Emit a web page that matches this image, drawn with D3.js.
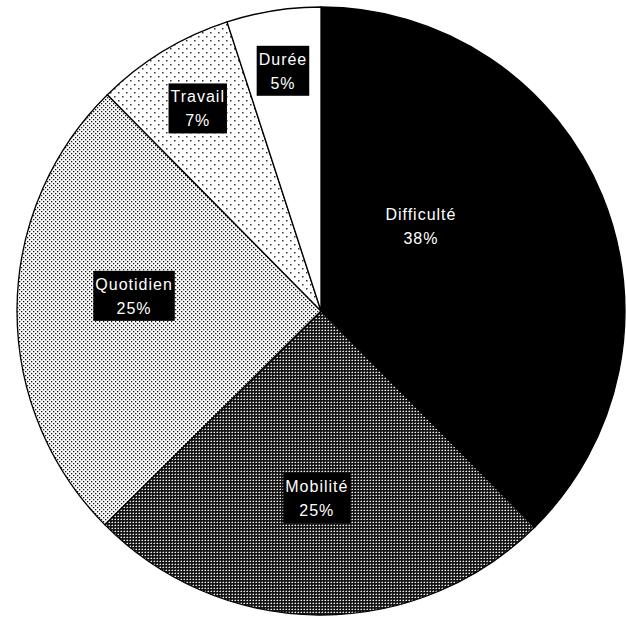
<!DOCTYPE html>
<html>
<head>
<meta charset="utf-8">
<script src="https://cdn.jsdelivr.net/npm/d3@7/dist/d3.min.js"></script>
<style>
  html, body { margin: 0; padding: 0; background: #fff; }
  svg { display: block; }
</style>
</head>
<body>
<svg id="chart" width="626" height="617"></svg>
<script>
// ---- data ----
const categories = ["Difficulté", "Mobilité", "Quotidien", "Travail", "Durée"];
const values = [37.6, 25.0, 25.0, 7.4, 5.0];
const percentLabels = ["38%", "25%", "25%", "7%", "5%"];

// ---- layout / style ----
const W = 626, H = 617;
const cx = 321, cy = 311, R = 304;
const fills = ["#000", "url(#pMob)", "url(#pQuo)", "url(#pTra)", "#fff"];
const labelRadius = [0.43, 0.615, 0.615, 0.78, 0.80];
const labelShift = [[-21, -35], [-3, 0], [0, -14], [0, 0], [0, 0]];

const svg = d3.select("#chart");
const defs = svg.append("defs");

// Mobilité: dark dense pattern
const pMob = defs.append("pattern").attr("id", "pMob")
  .attr("patternUnits", "userSpaceOnUse").attr("width", 3).attr("height", 3);
pMob.append("rect").attr("width", 3).attr("height", 3).attr("fill", "#151515");
pMob.append("rect").attr("x", 1).attr("y", 1).attr("width", 1).attr("height", 1).attr("fill", "#f0f0f0");
pMob.append("rect").attr("x", 0).attr("y", 1).attr("width", 1).attr("height", 1).attr("fill", "#8a8a8a");
pMob.append("rect").attr("x", 1).attr("y", 0).attr("width", 1).attr("height", 1).attr("fill", "#5a5a5a");

// Quotidien: fine dots
const pQuo = defs.append("pattern").attr("id", "pQuo")
  .attr("patternUnits", "userSpaceOnUse").attr("width", 4).attr("height", 4);
pQuo.append("rect").attr("width", 4).attr("height", 4).attr("fill", "#fff");
pQuo.append("rect").attr("x", 0).attr("y", 0).attr("width", 1.3).attr("height", 1.3).attr("fill", "#111");
pQuo.append("rect").attr("x", 2).attr("y", 2).attr("width", 1.3).attr("height", 1.3).attr("fill", "#111");

// Travail: sparse dots
const pTra = defs.append("pattern").attr("id", "pTra")
  .attr("patternUnits", "userSpaceOnUse").attr("width", 8).attr("height", 8);
pTra.append("rect").attr("width", 8).attr("height", 8).attr("fill", "#fff");
pTra.append("rect").attr("x", 1).attr("y", 1).attr("width", 1.5).attr("height", 1.5).attr("fill", "#333");
pTra.append("rect").attr("x", 5).attr("y", 5).attr("width", 1.5).attr("height", 1.5).attr("fill", "#333");

const data = categories.map((c, i) => ({ name: c, value: values[i], pct: percentLabels[i], i }));

const pie = d3.pie().value(d => d.value).sort(null);
const arcs = pie(data);
const arc = d3.arc().innerRadius(0).outerRadius(R);

const g = svg.append("g").attr("transform", `translate(${cx},${cy})`);

g.selectAll("path.slice").data(arcs).join("path")
  .attr("class", "slice")
  .attr("d", arc)
  .attr("fill", d => fills[d.data.i])
  .attr("stroke", "#000")
  .attr("stroke-width", 1.3);

// labels
const lg = g.selectAll("g.lbl").data(arcs).join("g").attr("class", "lbl")
  .attr("transform", d => {
    const r = R * labelRadius[d.data.i];
    const a = d3.arc().innerRadius(r).outerRadius(r);
    const [x, y] = a.centroid(d);
    const s = labelShift[d.data.i];
    return `translate(${x + s[0]},${y + s[1]})`;
  });

lg.each(function(d) {
  const sel = d3.select(this);
  const rect = sel.append("rect").attr("fill", "#000");
  const t1 = sel.append("text").text(d.data.name)
    .attr("y", -6);
  const t2 = sel.append("text").text(d.data.pct)
    .attr("y", 18);
  sel.selectAll("text")
    .attr("text-anchor", "middle")
    .attr("fill", "#fff")
    .attr("font-family", "'Liberation Sans', Arial, sans-serif")
    .attr("font-size", 16)
    .attr("letter-spacing", 1);
  const w = Math.max(t1.node().getComputedTextLength(), t2.node().getComputedTextLength()) + 4;
  rect.attr("x", -w / 2).attr("y", -25).attr("width", w).attr("height", 50);
});
</script>
</body>
</html>
